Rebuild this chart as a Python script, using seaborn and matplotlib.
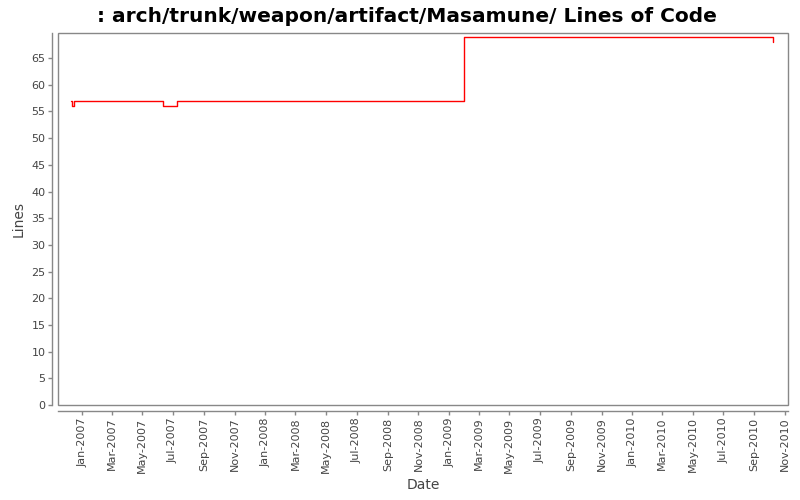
import pandas as pd
import matplotlib
matplotlib.use("Agg")
import matplotlib.pyplot as plt
import matplotlib.dates as mdates
from matplotlib.patches import Rectangle
import seaborn as sns

# Step-series data
dates = ['2006-12-10', '2006-12-11', '2006-12-16', '2007-06-11',
         '2007-07-10', '2009-01-31', '2010-10-09']
lines = [57, 56, 57, 56, 57, 69, 68]
title = '  : arch/trunk/weapon/artifact/Masamune/ Lines of Code'

data = pd.DataFrame({'Date': pd.to_datetime(dates), 'Lines': lines})

sns.set_style("white")
plt.rcParams['font.family'] = ['DejaVu Sans']

fig = plt.figure(figsize=(8, 5), dpi=100)
ax = fig.add_axes([0.0725, 0.19, 0.9125, 0.744])

sns.lineplot(x='Date', y='Lines', data=data, color='red', linewidth=1.0,
             drawstyle='steps-post', ax=ax)

ax.set_xlim(pd.Timestamp('2006-11-14'), pd.Timestamp('2010-11-07'))
ax.set_ylim(0, 69.7)
ax.set_yticks(range(0, 70, 5))

ax.xaxis.set_major_locator(mdates.MonthLocator(bymonth=[1, 3, 5, 7, 9, 11]))
ax.xaxis.set_major_formatter(mdates.DateFormatter('%b-%Y'))
ax.tick_params(axis='x', labelrotation=90)

# axis lines offset from the plot border
for side in ['left', 'bottom']:
    ax.spines[side].set_position(('outward', 4))
    ax.spines[side].set_color('#888888')
    ax.spines[side].set_linewidth(1)
for side in ['top', 'right']:
    ax.spines[side].set_visible(False)
ax.add_patch(Rectangle((0, 0), 1, 1, transform=ax.transAxes, fill=False,
                       edgecolor='#888888', linewidth=1, clip_on=False))

ax.tick_params(axis='both', which='major', direction='out', length=3,
               width=1, color='#888888', labelsize=8, labelcolor='#444444',
               bottom=True, left=True, pad=2)

ax.set_xlabel('Date', fontsize=10, color='#444444', labelpad=4)
ax.set_ylabel('Lines', fontsize=10, color='#444444')
fig.suptitle(title, x=0.5, y=0.987, fontsize=14.5, fontweight='bold',
             color='black', va='top')

fig.savefig('out.png', dpi=100)
